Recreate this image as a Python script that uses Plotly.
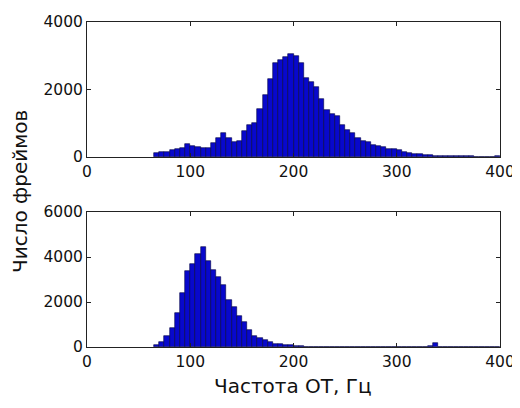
import plotly.graph_objects as go
from plotly.subplots import make_subplots

# bin centers (Hz), bin width 5 Hz
bin_centers = [67.5, 72.5, 77.5, 82.5, 87.5, 92.5, 97.5, 102.5, 107.5, 112.5,
               117.5, 122.5, 127.5, 132.5, 137.5, 142.5, 147.5, 152.5, 157.5, 162.5,
               167.5, 172.5, 177.5, 182.5, 187.5, 192.5, 197.5, 202.5, 207.5, 212.5,
               217.5, 222.5, 227.5, 232.5, 237.5, 242.5, 247.5, 252.5, 257.5, 262.5,
               267.5, 272.5, 277.5, 282.5, 287.5, 292.5, 297.5, 302.5, 307.5, 312.5,
               317.5, 322.5, 327.5, 332.5, 337.5, 342.5, 347.5, 352.5, 357.5, 362.5,
               367.5, 372.5, 377.5, 382.5, 387.5, 392.5, 397.5]

top_counts = [120, 140, 160, 200, 240, 270, 380, 330, 300, 260,
              280, 420, 570, 720, 560, 440, 470, 770, 960, 1020,
              1430, 1840, 2300, 2780, 2880, 2960, 3060, 2980, 2780, 2350,
              2210, 2060, 1710, 1400, 1260, 1210, 950, 790, 710, 560,
              470, 430, 370, 330, 300, 240, 230, 200, 140, 120,
              100, 80, 70, 50, 40, 30, 30, 20, 20, 30,
              30, 20, 10, 10, 10, 10, 30]

bottom_counts = [100, 240, 480, 860, 1520, 2410, 3390, 3680, 4120, 4440,
                 3840, 3410, 3100, 2740, 2080, 1790, 1370, 1090, 760, 480,
                 400, 300, 240, 150, 120, 100, 70, 45, 30, 20,
                 12, 10, 10, 8, 8, 6, 6, 6, 5, 5,
                 5, 5, 5, 5, 5, 5, 5, 5, 5, 5,
                 5, 5, 5, 40, 190, 10, 5, 5, 5, 5,
                 5, 5, 5, 5, 5, 5, 5]

x_ticks = [0, 100, 200, 300, 400]
top_y_ticks = [0, 2000, 4000]
bottom_y_ticks = [0, 2000, 4000, 6000]

x_title = "Частота ОТ, Гц"
y_title = "Число фреймов"

BAR = "#0808cc"
EDGE = "#000040"
FONT = "DejaVu Sans"

# page has an 8px body margin; margins below compensate
W, H = 520, 408
ML, MR, MT, MB = 79, 28, 14, 69
OFF = 8

fig = make_subplots(rows=2, cols=1)

fig.add_trace(go.Bar(x=bin_centers, y=top_counts, width=5,
                     marker=dict(color=BAR, line=dict(color=EDGE, width=0.6)),
                     showlegend=False), row=1, col=1)
fig.add_trace(go.Bar(x=bin_centers, y=bottom_counts, width=5,
                     marker=dict(color=BAR, line=dict(color=EDGE, width=0.6)),
                     showlegend=False), row=2, col=1)

axis_common = dict(showline=True, linecolor="#222", linewidth=1, mirror="ticks",
                   ticks="inside", ticklen=4, tickcolor="#222", showgrid=False,
                   zeroline=False, automargin=False,
                   tickfont=dict(family=FONT, size=15.5, color="#111"))

fig.update_xaxes(range=[0, 400], tickvals=x_ticks, **axis_common)
fig.update_yaxes(**axis_common)
fig.update_yaxes(range=[0, 4000], tickvals=top_y_ticks, row=1, col=1)
fig.update_yaxes(range=[0, 6000], tickvals=bottom_y_ticks, row=2, col=1)

pw, ph = W - ML - MR, H - MT - MB


def px_to_paper(sx, sy):
    # screen pixel -> paper coords
    fx, fy = sx - OFF, sy - OFF
    return (fx - ML) / pw, (H - MB - fy) / ph


top_lo = px_to_paper(0, 157)[1]
bot_hi = px_to_paper(0, 212)[1]

xt = px_to_paper(293, 386)
yt = px_to_paper(20, 192)

fig.update_layout(
    width=W, height=H,
    margin=dict(l=ML, r=MR, t=MT, b=MB),
    paper_bgcolor="white", plot_bgcolor="white",
    bargap=0,
    yaxis=dict(domain=[top_lo, 1.0]),
    yaxis2=dict(domain=[0.0, bot_hi]),
    annotations=[
        dict(text=x_title, x=xt[0], y=xt[1], xref="paper", yref="paper",
             xanchor="center", yanchor="middle",
             showarrow=False, font=dict(family=FONT, size=20, color="#111")),
        dict(text=y_title, x=yt[0], y=yt[1], xref="paper", yref="paper", textangle=-90,
             xanchor="center", yanchor="middle",
             showarrow=False, font=dict(family=FONT, size=20, color="#111")),
    ],
)

fig.write_html("out.html")
